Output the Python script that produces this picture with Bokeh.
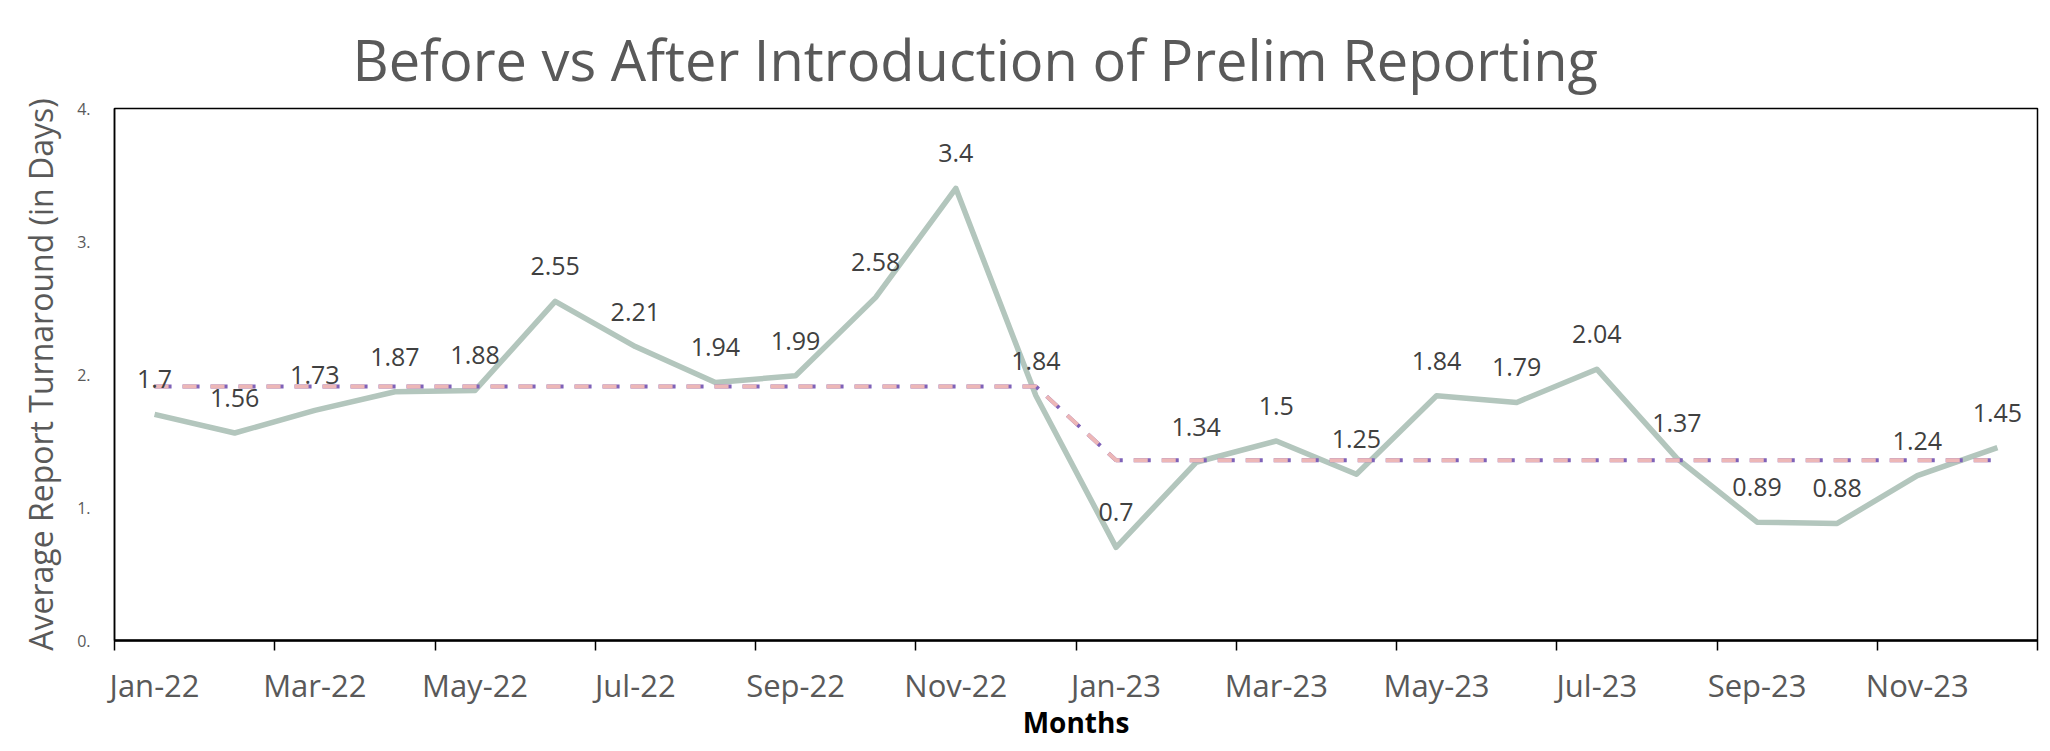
from bokeh.plotting import figure
from bokeh.models import Range1d, FixedTicker, Title
from bokeh.embed import file_html
from bokeh.resources import INLINE
from bokeh.core.properties import value

# ---------------- data ----------------
months = ["Jan-22", "Feb-22", "Mar-22", "Apr-22", "May-22", "Jun-22",
          "Jul-22", "Aug-22", "Sep-22", "Oct-22", "Nov-22", "Dec-22",
          "Jan-23", "Feb-23", "Mar-23", "Apr-23", "May-23", "Jun-23",
          "Jul-23", "Aug-23", "Sep-23", "Oct-23", "Nov-23", "Dec-23"]
turnaround = [1.7, 1.56, 1.73, 1.87, 1.88, 2.55, 2.21, 1.94, 1.99, 2.58, 3.4, 1.84,
              0.7, 1.34, 1.5, 1.25, 1.84, 1.79, 2.04, 1.37, 0.89, 0.88, 1.24, 1.45]
median_level = [1.91, 1.91, 1.91, 1.91, 1.91, 1.91, 1.91, 1.91, 1.91, 1.91, 1.91, 1.91,
                1.355, 1.355, 1.355, 1.355, 1.355, 1.355, 1.355, 1.355, 1.355, 1.355, 1.355, 1.355]
y_ticks = [0, 1, 2, 3, 4]
y_tick_labels = ["0.", "1.", "2.", "3.", "4."]

idx = list(range(len(months)))
value_labels = [f"{v:g}" for v in turnaround]

FONT = "Open Sans"
GREY = "#595959"

p = figure(width=2042, height=743, output_backend="svg", toolbar_location=None,
           x_range=Range1d(-0.5, len(months) - 0.5), y_range=Range1d(0, 4),
           min_border_left=114, min_border_right=5, min_border_top=108,
           min_border_bottom=103)

p.title = Title(text="Before vs After Introduction of Prelim Reporting",
                text_font=FONT, text_font_size="56px", text_font_style="normal",
                text_color=GREY, align="left", offset=238, standoff=24)

p.xgrid.visible = False
p.ygrid.visible = False
p.outline_line_color = "black"
p.outline_line_width = 1.5
p.background_fill_color = "white"
p.border_fill_color = "white"

# x axis
xa = p.xaxis[0]
xa.ticker = FixedTicker(ticks=idx[::2], minor_ticks=[i - 0.5 for i in idx[::2]] + [len(months) - 0.5])
xa.major_label_overrides = {i: months[i] for i in idx[::2]}
xa.major_tick_out = 0
xa.major_tick_in = 0
xa.minor_tick_out = 10
xa.minor_tick_in = 0
xa.minor_tick_line_color = "black"
xa.minor_tick_line_width = 1.5
xa.axis_line_color = "black"
xa.axis_line_width = 2.5
xa.major_label_text_font = FONT
xa.major_label_text_font_size = "31px"
xa.major_label_text_color = GREY
xa.major_label_standoff = 13
xa.axis_label = "Months"
xa.axis_label_text_font = FONT
xa.axis_label_text_font_size = "28px"
xa.axis_label_text_font_style = "bold"
xa.axis_label_text_color = "black"
xa.axis_label_standoff = -6

# y axis
ya = p.yaxis[0]
ya.ticker = FixedTicker(ticks=y_ticks)
ya.major_label_overrides = {t: l for t, l in zip(y_ticks, y_tick_labels)}
ya.major_tick_out = 0
ya.major_tick_in = 0
ya.minor_tick_out = 0
ya.minor_tick_in = 0
ya.axis_line_color = "black"
ya.axis_line_width = 1.5
ya.major_label_text_font = FONT
ya.major_label_text_font_size = "16px"
ya.major_label_text_color = GREY
ya.major_label_standoff = 24
ya.axis_label = "Average Report Turnaround (in Days)"
ya.axis_label_text_font = FONT
ya.axis_label_text_font_size = "32px"
ya.axis_label_text_font_style = "normal"
ya.axis_label_text_color = GREY
ya.axis_label_standoff = 12

# series
p.line(idx, turnaround, line_color="#B3C6BD", line_width=5.5, line_join="round")
p.line(idx, median_level, line_color="#7F62B8", line_width=4, line_dash="17 11")
p.line(idx, median_level, line_color="#EDB7B7", line_width=4, line_dash="14 14")

p.text(x=idx, y=turnaround, text=value_labels, text_font=value(FONT),
       text_font_size="25px", text_color="#404040", text_align="center",
       text_baseline="middle", y_offset=-35)

open("out.html", "w").write(file_html(p, INLINE))
